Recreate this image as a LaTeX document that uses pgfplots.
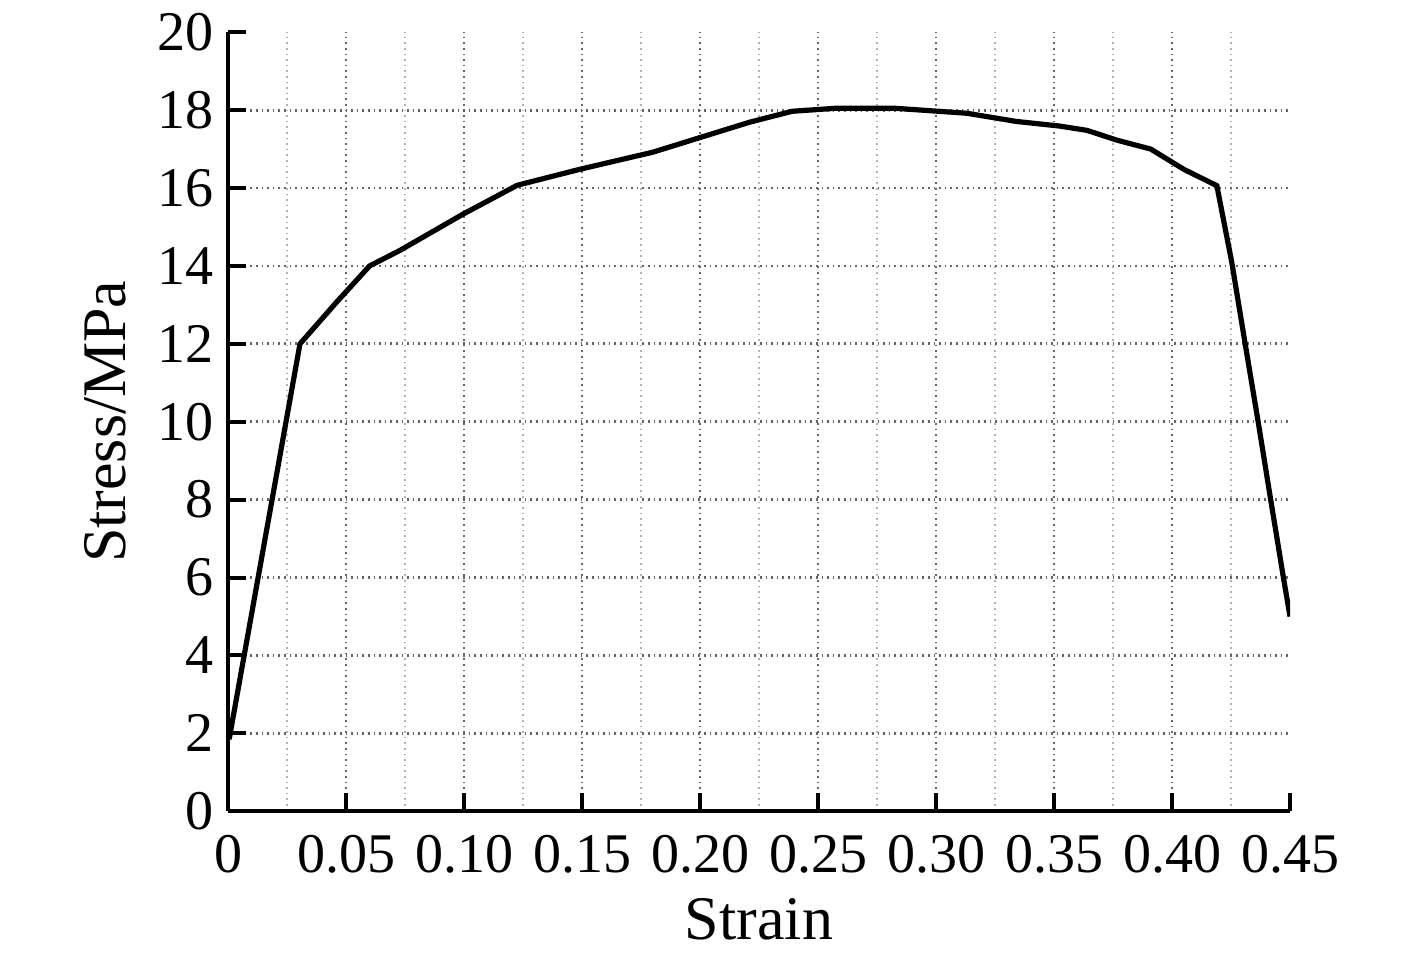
\documentclass[border=0pt]{standalone}
\usepackage{fontspec}
\setmainfont{Liberation Serif}
\usepackage{pgfplots}
\pgfplotsset{compat=1.18}
\begin{document}
\begin{tikzpicture}
\begin{axis}[
  scale only axis,
  width=265.5pt, height=194.75pt,
  xmin=0, xmax=0.45, ymin=0, ymax=20,
  axis x line=bottom, axis y line=left,
  axis line style={-, line width=1pt},
  xtick={0,0.05,0.10,0.15,0.20,0.25,0.30,0.35,0.40},
  xticklabels={0,0.05,0.10,0.15,0.20,0.25,0.30,0.35,0.40},
  extra x ticks={0.45}, extra x tick labels={0.45},
  extra x tick style={grid=none},
  minor xtick={0.025,0.075,...,0.425},
  ytick={0,2,...,18},
  extra y ticks={20}, extra y tick labels={20},
  extra y tick style={grid=none},
  grid=both,
  major grid style={densely dotted, gray!80!black, line width=0.7pt},
  minor grid style={densely dotted, gray!60, line width=0.7pt},
  major tick length=4.5pt, minor tick length=0pt,
  tick style={black, line width=1pt},
  tick align=inside,
  /pgf/number format/assume math mode=true,
  tick label style={font=\fontsize{14}{16}\selectfont},
  xticklabel style={yshift=-2.5pt},
  label style={font=\fontsize{15.5}{18}\selectfont},
  xlabel={Strain}, ylabel={Stress/MPa},
  xlabel style={yshift=0.5pt},
  ylabel style={yshift=1pt},
]
\addplot[black, line width=1.3pt] coordinates {
(0.0005,1.85) (0.002,2.36) (0.0305,12.0) (0.046,13.07) (0.060,14.0)
(0.0729,14.4) (0.0996,15.33) (0.1225,16.07) (0.149,16.48) (0.180,16.92)
(0.221,17.69) (0.239,17.97) (0.258,18.05) (0.282,18.05) (0.313,17.92)
(0.334,17.71) (0.3525,17.59) (0.364,17.48) (0.3766,17.23) (0.391,17.0)
(0.405,16.48) (0.419,16.06) (0.4253,14.1) (0.4310,12.0) (0.4365,10.0)
(0.4418,8.0) (0.4472,6.0) (0.45,5.0)
};
\end{axis}
\path ([shift={(-57pt,-37.5pt)}]current axis.south west) rectangle ([shift={(31.75pt,7.5pt)}]current axis.north east);
\end{tikzpicture}
\end{document}
